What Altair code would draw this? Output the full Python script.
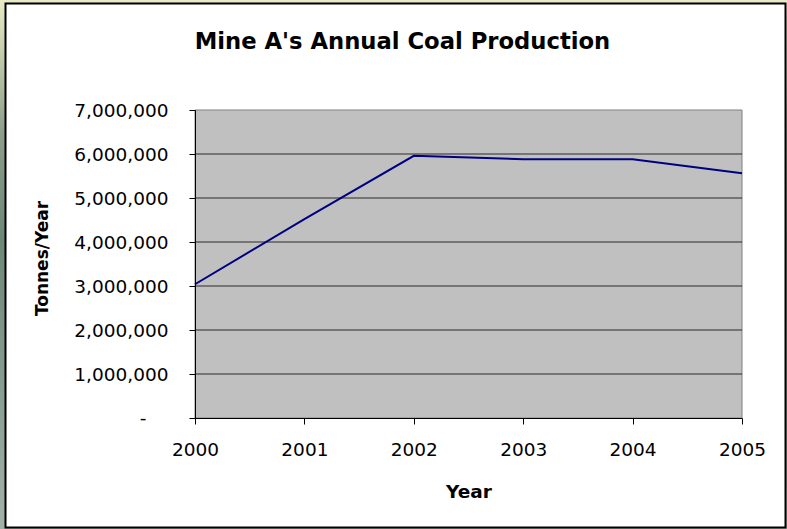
import altair as alt
import pandas as pd

# Annual production of Mine A
years = [2000, 2001, 2002, 2003, 2004, 2005]
tonnes = [3040000, 4520000, 5960000, 5880000, 5880000, 5560000]

# Axis ticks and horizontal gridlines
y_ticks = [0, 1000000, 2000000, 3000000, 4000000, 5000000, 6000000, 7000000]
grid_values = [1000000, 2000000, 3000000, 4000000, 5000000, 6000000]

chart_title = "Mine A's Annual Coal Production"
zero_label = "-"

FONT = "DejaVu Sans"
W, H = 547, 308
PAD = {"left": 195, "top": 110, "right": 45, "bottom": 111}

prod = pd.DataFrame({"Year": years, "Tonnes": tonnes})
grid = pd.DataFrame({"g": grid_values})
one = alt.Data(values=[{"k": 1}])
title_data = pd.DataFrame({"t": [chart_title]})
zero_data = pd.DataFrame({"v": [0], "t": [zero_label]})

x_scale = alt.Scale(domain=[2000, 2005], nice=False, zero=False)
y_scale = alt.Scale(domain=[0, 7000000], nice=False)

# Zero is shown as an accounting-style dash, drawn as its own text layer
y_axis = alt.Axis(
    title="Tonnes/Year", values=y_ticks, grid=False,
    labelExpr="datum.value == 0 ? '' : format(datum.value, ',d')",
    domainColor="black", tickColor="black", tickSize=6,
    labelPadding=21, labelFont=FONT, labelFontSize=18.5,
    labelColor="black", labelOverlap=False, labelFlush=False,
    titleFont=FONT, titleFontSize=17, titleFontWeight="bold",
    titleColor="black", titleAngle=-90, titleAlign="center",
    titleBaseline="middle", titleX=-153, titleY=148,
    zindex=1,
)
x_axis = alt.Axis(
    title="Year", values=years, format="d", grid=False,
    domainColor="black", tickColor="black", tickSize=6,
    labelPadding=16, labelFont=FONT, labelFontSize=18.5,
    labelColor="black", labelFlush=False, labelOverlap=False,
    titleFont=FONT, titleFontSize=18.5, titleFontWeight="bold",
    titleColor="black", titleBaseline="alphabetic", titleY=79,
    zindex=1,
)

# Page backdrop with a soft vertical gradient
backdrop = alt.Chart(one).mark_rect(
    fill=alt.LinearGradient(
        gradient="linear",
        stops=[
            alt.GradientStop(color="#e9ebc4", offset=0),
            alt.GradientStop(color="#8c9f8a", offset=0.25),
            alt.GradientStop(color="#6d8777", offset=0.45),
            alt.GradientStop(color="#a2b2aa", offset=1),
        ],
        x1=0, x2=0, y1=0, y2=1,
    ),
    strokeWidth=0,
).encode(
    x=alt.value(-PAD["left"]), x2=alt.value(W + PAD["right"]),
    y=alt.value(-PAD["top"]), y2=alt.value(H + PAD["bottom"]),
)

# White chart frame with a black border
frame = alt.Chart(one).mark_rect(
    fill="white", stroke="black", strokeWidth=2
).encode(
    x=alt.value(-189.5), x2=alt.value(590.5),
    y=alt.value(-106.5), y2=alt.value(417.5),
)

# Chart heading, centred on the frame
heading = alt.Chart(title_data).mark_text(
    font=FONT, fontSize=22.7, fontWeight="bold", color="black",
    align="center", baseline="alphabetic",
).encode(
    text="t:N", x=alt.value(207.5), y=alt.value(-61),
)

# Grey plotting area
plot_bg = alt.Chart(one).mark_rect(
    fill="#c0c0c0", stroke="#808080", strokeWidth=1
).encode(
    x=alt.value(0), x2=alt.value(W), y=alt.value(0), y2=alt.value(H),
)

gridlines = alt.Chart(grid).mark_rule(color="#2a2a2a", strokeWidth=1).encode(
    y=alt.Y("g:Q", scale=y_scale, axis=y_axis),
    x=alt.value(0), x2=alt.value(W),
)

zero_tick = alt.Chart(zero_data).mark_text(
    font=FONT, fontSize=18.5, color="black", align="center", baseline="middle",
).encode(
    text="t:N",
    y=alt.Y("v:Q", scale=y_scale, axis=y_axis),
    x=alt.value(-52),
)

line = alt.Chart(prod).mark_line(color="#000080", strokeWidth=2).encode(
    x=alt.X("Year:Q", scale=x_scale, axis=x_axis),
    y=alt.Y("Tonnes:Q", scale=y_scale, axis=y_axis),
)

chart = alt.layer(
    backdrop, frame, heading, plot_bg, gridlines, zero_tick, line
).properties(
    width=W,
    height=H,
    padding=PAD,
    autosize=alt.AutoSizeParams(type="none"),
    background="white",
).configure_view(stroke=None)

chart.save("out.html", embed_options={"renderer": "svg", "actions": False})
